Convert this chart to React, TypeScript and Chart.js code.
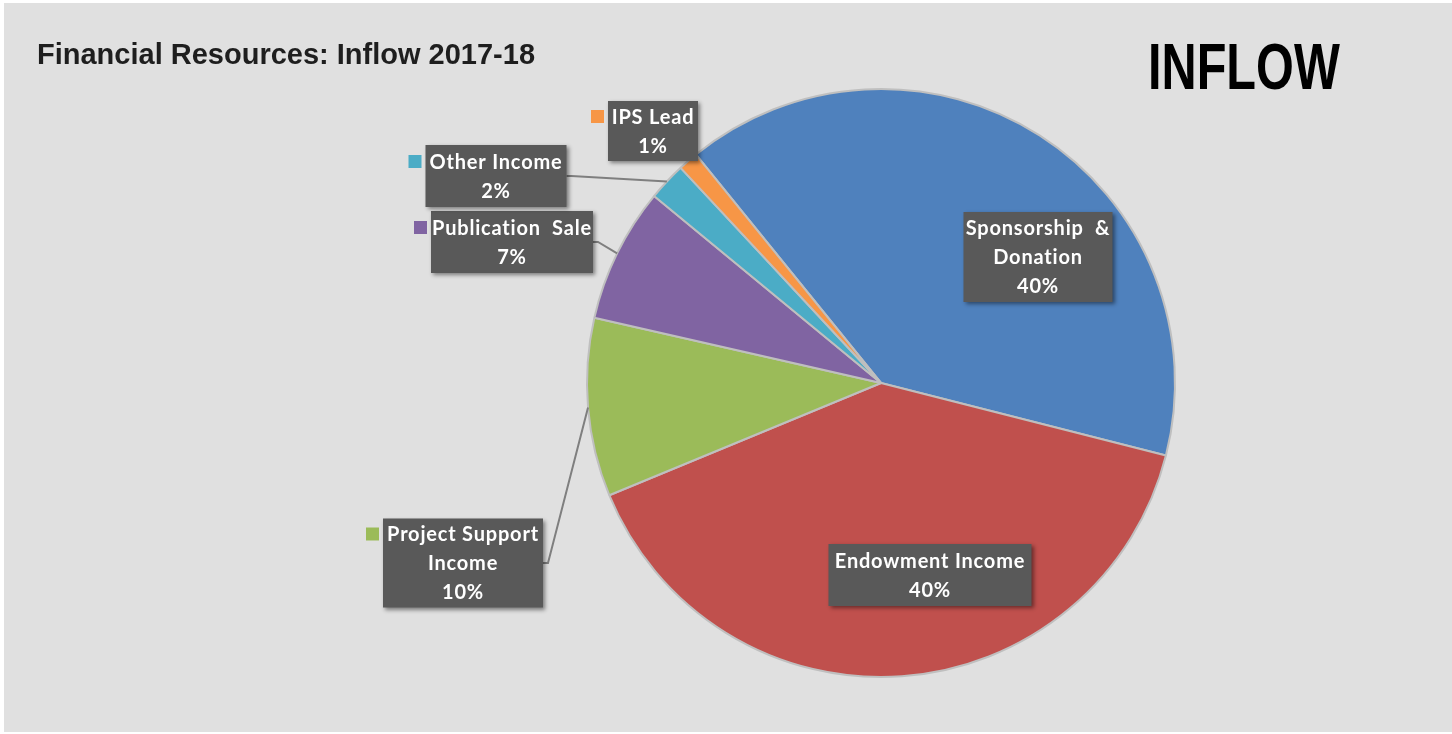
import React, { useEffect, useRef } from "react";
import { Chart, registerables } from "chart.js";

Chart.register(...registerables);

// ---- data ----
const categories = [
  "Sponsorship & Donation",
  "Endowment Income",
  "Project Support Income",
  "Publication Sale",
  "Other Income",
  "IPS Lead",
];
const shares = [39.8, 39.8, 9.8, 7.4, 2.1, 1.1];
const labelLines = [
  ["Sponsorship  &", "Donation"],
  ["Endowment Income"],
  ["Project Support", "Income"],
  ["Publication  Sale"],
  ["Other Income"],
  ["IPS Lead"],
];
const sliceColors = ["#4F81BD", "#C0504D", "#9BBB59", "#8064A2", "#4BACC6", "#F79646"];
const titleText = "Financial Resources: Inflow 2017-18";
const badgeText = "INFLOW";

// ---- label layout (offsets from pie centre) ----
const labelLayout = [
  { dx: 157, dy: -126, w: 149, h: 90, key: false, leader: false },
  { dx: 49, dy: 192, w: 203, h: 62, key: false, leader: false },
  { dx: -418, dy: 180, w: 160, h: 89, key: true, leader: true },
  { dx: -369, dy: -141, w: 162, h: 62, key: true, leader: true },
  { dx: -385, dy: -207, w: 141, h: 62, key: true, leader: true },
  { dx: -228, dy: -252, w: 90, h: 60, key: true, leader: false },
];

const LABEL_FONT = "bold 20px Lato";
const LINE_H = 29;

const decorPlugin = {
  id: "decor",
  beforeDraw(chart: any) {
    const { ctx, width, height } = chart;
    ctx.save();
    ctx.fillStyle = "#ffffff";
    ctx.fillRect(0, 0, width, height);
    ctx.fillStyle = "#e0e0e0";
    ctx.fillRect(4, 3, width - 4, height - 5);
    ctx.restore();
  },
  afterDraw(chart: any) {
    const { ctx } = chart;
    ctx.save();
    // title
    ctx.fillStyle = "#1e1e1e";
    ctx.font = "bold 29px 'Liberation Sans'";
    ctx.textBaseline = "alphabetic";
    ctx.textAlign = "left";
    ctx.fillText(titleText, 37, 64);
    // badge
    ctx.save();
    ctx.translate(1148, 89);
    ctx.scale(0.76, 1);
    ctx.fillStyle = "#000000";
    ctx.font = "bold 64px 'Liberation Sans'";
    ctx.fillText(badgeText, 0, 0);
    ctx.restore();

    const meta = chart.getDatasetMeta(0);
    const ds = chart.data.datasets[0];
    // leader lines
    meta.data.forEach((arc: any, i: number) => {
      const L = labelLayout[i];
      if (!L.leader) return;
      const p = arc.getProps(["x", "y", "startAngle", "endAngle", "outerRadius"], true);
      const mid = (p.startAngle + p.endAngle) / 2;
      const ax = p.x + Math.cos(mid) * p.outerRadius;
      const ay = p.y + Math.sin(mid) * p.outerRadius;
      const bx = p.x + L.dx + L.w / 2;
      const by = p.y + L.dy;
      ctx.beginPath();
      ctx.moveTo(bx, by);
      ctx.lineTo(bx + 5, by);
      ctx.lineTo(ax, ay);
      ctx.strokeStyle = "#7f7f7f";
      ctx.lineWidth = 2;
      ctx.stroke();
    });
    // boxes
    meta.data.forEach((arc: any, i: number) => {
      const L = labelLayout[i];
      const p = arc.getProps(["x", "y"], true);
      const cx = p.x + L.dx;
      const cy = p.y + L.dy;
      const left = cx - L.w / 2;
      const top = cy - L.h / 2;
      ctx.save();
      ctx.shadowColor = "rgba(0,0,0,0.45)";
      ctx.shadowBlur = 4;
      ctx.shadowOffsetX = 2;
      ctx.shadowOffsetY = 2;
      ctx.fillStyle = "#595959";
      ctx.fillRect(left, top, L.w, L.h);
      ctx.restore();

      const lines = [...labelLines[i], Math.round(ds.data[i]) + "%"];
      const firstY = cy - ((lines.length - 1) * LINE_H) / 2;
      ctx.save();
      ctx.fillStyle = "#ffffff";
      ctx.font = LABEL_FONT;
      (ctx as any).letterSpacing = "0.8px";
      ctx.textAlign = "center";
      ctx.textBaseline = "middle";
      lines.forEach((t, k) => ctx.fillText(t, cx, firstY + k * LINE_H + 1));
      ctx.restore();

      if (L.key) {
        ctx.fillStyle = sliceColors[i];
        ctx.fillRect(left - 17, firstY - 6.5, 13, 13);
      }
    });
    ctx.restore();
  },
};

export default function App() {
  const ref = useRef<HTMLCanvasElement>(null);
  useEffect(() => {
    const chart = new Chart(ref.current as HTMLCanvasElement, {
      type: "pie",
      data: {
        labels: categories,
        datasets: [
          {
            data: shares,
            backgroundColor: sliceColors,
            borderColor: "#bfbfbf",
            borderWidth: 2,
            hoverOffset: 0,
          },
        ],
      },
      options: {
        responsive: false,
        animation: false,
        events: [],
        rotation: 321,
        layout: { padding: { left: 586, right: 276, top: 88, bottom: 56 } },
        plugins: {
          legend: { display: false },
          tooltip: { enabled: false },
          title: { display: false },
        },
      },
      plugins: [decorPlugin],
    });
    return () => chart.destroy();
  }, []);
  return (
    <div style={{ position: "fixed", left: 0, top: 0, width: 1452, height: 734, background: "#fff" }}>
      <canvas ref={ref} width={1452} height={734} style={{ width: 1452, height: 734, display: "block" }} />
    </div>
  );
}
